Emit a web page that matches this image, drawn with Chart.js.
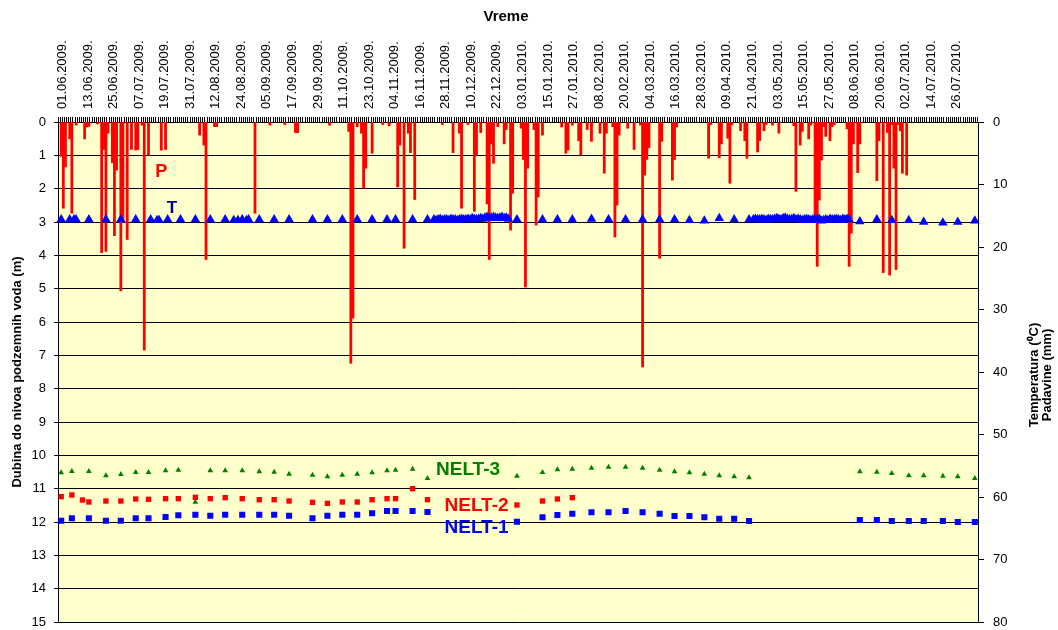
<!DOCTYPE html>
<html>
<head>
<meta charset="utf-8">
<script src="https://cdn.jsdelivr.net/npm/chart.js@4.4.1/dist/chart.umd.min.js"></script>
<style>
  html, body { margin: 0; padding: 0; background: #fff; }
  #wrap { width: 1058px; height: 630px; }
</style>
</head>
<body>
<div id="wrap"><canvas id="chart"></canvas></div>
<script>
// Daily categories from 01.06.2009, a date label every 12 days
const startYear = 2009, startMonth = 6, startDay = 1;
const dayCount = 432;
const labelEvery = 12;

// Left axis (depth, m) and right axis (temperature / precipitation)
const depthTicks = { min: 0, max: 15, step: 1 };
const rightTicks = { min: 0, max: 80, step: 10 };

// P - precipitation (mm); day = offset from 01.06.2009
const rainDays = [1, 2, 3, 5, 6, 8, 12, 13, 14, 18, 20, 21, 22, 23, 25, 26, 27, 29, 30, 32,
  34, 36, 37, 39, 40, 42, 48, 50, 66, 68, 69, 73, 74, 92, 99, 106, 111, 112, 127, 136,
  137, 138, 140, 142, 143, 144, 147, 152, 155, 159, 160, 162, 164, 165, 167, 180, 185, 188, 189, 192,
  195, 196, 198, 201, 202, 203, 204, 206, 209, 210, 212, 213, 217, 218, 219, 220, 223, 224, 225, 227,
  236, 238, 239, 241, 244, 245, 248, 250, 254, 256, 257, 260, 261, 262, 263, 267, 270, 273, 274, 275,
  276, 277, 282, 283, 288, 289, 290, 305, 306, 310, 311, 314, 315, 316, 320, 322, 323, 328, 329, 331,
  332, 335, 338, 345, 346, 348, 349, 352, 353, 355, 356, 357, 358, 359, 360, 362, 363, 364, 370, 371,
  372, 373, 375, 376, 384, 385, 387, 389, 390, 391, 392, 393, 394, 395, 396, 398];
const rainMm = [5.5, 13.8, 7.2, 2.7, 14.6, 0.5, 2.7, 0.8, 0.7, 0.3, 20.9, 4.4, 20.7, 1.8, 6.5, 18.2, 7.7, 27, 16.1, 18.8,
  4.4, 4.5, 4.4, 0.5, 36.5, 5.3, 4.5, 4.4, 2.1, 3.7, 22, 0.75, 0.75, 14.6, 0.5, 0.4, 1.7, 1.7, 0.5, 1.5,
  38.6, 31.4, 0.75, 1.8, 10.6, 7.4, 5, 0.4, 0.6, 10.4, 3.7, 20.2, 1.8, 4.9, 12.4, 0.4, 4.9, 1.8, 13.8, 0.4,
  14.3, 5.3, 1.7, 13.1, 22, 3.5, 6.6, 0.75, 3.5, 1.2, 17.3, 11.4, 1, 6, 26.4, 7.4, 1.2, 16.5, 12, 2.1,
  0.8, 5, 4.5, 0.5, 3, 5.3, 1.2, 3.1, 1.8, 8.2, 1.8, 0.75, 18.4, 13.3, 2.1, 1, 4.4, 0.5, 39.2, 8.5,
  6, 4.1, 21.8, 3.1, 9.3, 6, 0.8, 5.8, 0.4, 5.7, 3.5, 2.6, 9.8, 0.4, 1.4, 3, 5.8, 4.8, 3, 1.4,
  0.4, 0.5, 1.8, 0.6, 11.1, 3.7, 1.5, 2.7, 0.5, 14.9, 23.1, 12.5, 6.1, 0.75, 2.3, 3, 0.75, 0.4, 1.1, 23.1,
  17.8, 3.5, 8.1, 3.5, 9.4, 3, 24.1, 1.7, 24.5, 0.4, 7.4, 23.6, 0.4, 1.4, 8.2, 8.5];

// T - temperature (°C), spot readings
const tempDays = [1, 5, 7, 8, 14, 22, 29, 36, 43, 46, 47, 51, 57, 64, 71, 78, 82, 84, 86, 88,
  89, 94, 101, 108, 119, 126, 133, 140, 147, 154, 158, 166, 173,
  215, 227, 234, 241, 250, 258, 266, 274, 282, 289, 296, 303, 310, 317, 324,
  376, 384, 391, 399, 406, 415, 422, 430];
const tempVals = [15.6, 15.6, 15.6, 15.6, 15.6, 15.6, 15.6, 15.6, 15.6, 15.7, 15.7, 15.6, 15.6, 15.6, 15.6, 15.6, 15.7, 15.7, 15.6, 15.7,
  15.6, 15.6, 15.6, 15.6, 15.6, 15.6, 15.6, 15.6, 15.6, 15.6, 15.6, 15.6, 15.6,
  15.6, 15.6, 15.6, 15.6, 15.5, 15.6, 15.6, 15.6, 15.6, 15.6, 15.7, 15.8, 15.4, 15.6, 15.6,
  15.9, 15.6, 15.7, 15.7, 16.0, 16.1, 16.0, 15.8];
// T - daily readings (two periods)
const tempRunAStart = 176;
const tempRunA = [15.6, 15.7, 15.6, 15.5, 15.7, 15.6, 15.6, 15.7, 15.5, 15.6,
  15.6, 15.7, 15.6, 15.5, 15.6, 15.6, 15.5, 15.6, 15.4, 15.5,
  15.6, 15.5, 15.4, 15.5, 15.3, 15.2, 15.4, 15.3, 15.2, 15.3,
  15.4, 15.3, 15.2, 15.4, 15.3, 15.5];
const tempRunBStart = 326;
const tempRunB = [15.6, 15.5, 15.6, 15.6, 15.5, 15.6, 15.7, 15.5, 15.6, 15.6,
  15.5, 15.4, 15.5, 15.6, 15.4, 15.3, 15.5, 15.6, 15.5, 15.4,
  15.6, 15.5, 15.6, 15.7, 15.6, 15.5, 15.6, 15.7, 15.6, 15.5,
  15.6, 15.5, 15.8, 15.7, 15.6, 15.7, 15.5, 15.6, 15.6, 15.5,
  15.6, 15.7, 15.5, 15.6, 15.5, 15.6];

// Depth to groundwater (m) in the NELT wells, weekly measurements
const wellDays = [1, 6, 11, 14, 22, 29, 36, 42, 50, 56, 64, 71, 78, 86, 94, 101, 108, 119, 126, 133,
  140, 147, 154, 158, 166, 173, 215, 227, 234, 241, 250, 258, 266, 274, 282, 289, 296, 303, 310, 317,
  324, 376, 384, 391, 399, 406, 415, 422, 430];
const nelt3 = [10.52, 10.48, null, 10.48, 10.61, 10.57, 10.51, 10.51, 10.46, 10.44, 11.4, 10.46, 10.46, 10.46, 10.49, 10.5, 10.56, 10.59, 10.64, 10.59,
  10.56, 10.52, 10.46, 10.44, 10.41, 10.69, 10.62, 10.51, 10.43, 10.41, 10.38, 10.35, 10.35, 10.38, 10.44, 10.49, 10.52, 10.56, 10.61, 10.64,
  10.67, 10.49, 10.5, 10.54, 10.61, 10.61, 10.62, 10.64, 10.69];
const nelt2 = [11.24, 11.19, 11.34, 11.4, 11.37, 11.37, 11.31, 11.32, 11.3, 11.3, 11.26, 11.3, 11.27, 11.3, 11.33, 11.33, 11.37, 11.41, 11.44, 11.4,
  11.4, 11.33, 11.3, 11.3, 11.0, 11.33, 11.49, 11.37, 11.31, 11.27, null, null, null, null, null, null, null, null, null, null,
  null, null, null, null, null, null, null, null, null];
const nelt1 = [11.96, 11.89, null, 11.89, 11.96, 11.96, 11.89, 11.89, 11.85, 11.8, 11.78, 11.81, 11.78, 11.78, 11.78, 11.78, 11.81, 11.89, 11.81, 11.78,
  11.78, 11.74, 11.67, 11.67, 11.67, 11.7, 11.99, 11.86, 11.79, 11.75, 11.71, 11.71, 11.67, 11.71, 11.75, 11.82, 11.82, 11.86, 11.9, 11.9,
  11.97, 11.94, 11.94, 11.97, 11.97, 11.97, 11.97, 12.0, 12.0];

// series name labels, placed in data units (day, value on the named axis)
const seriesTags = [
  { text: 'P', color: '#FF0000', axis: 'y2', day: 48, value: 8, align: 'center', size: 18 },
  { text: 'T', color: '#000080', axis: 'y2', day: 53, value: 13.8, align: 'center', size: 17 },
  { text: 'NELT-3', color: '#008000', axis: 'y', day: 177, value: 10.44, align: 'left', size: 19 },
  { text: 'NELT-2', color: '#FF0000', axis: 'y', day: 181, value: 11.52, align: 'left', size: 19 },
  { text: 'NELT-1', color: '#0000FF', axis: 'y', day: 181, value: 12.18, align: 'left', size: 19 }
];

function pad2(n) { return String(n).padStart(2, '0'); }

const categories = [];
for (let i = 0; i < dayCount; i++) {
  const d = new Date(Date.UTC(startYear, startMonth - 1, startDay + i));
  categories.push(pad2(d.getUTCDate()) + '.' + pad2(d.getUTCMonth() + 1) + '.' + d.getUTCFullYear() + '.');
}

function daily(days, vals) {
  const out = new Array(dayCount).fill(null);
  days.forEach((d, i) => { if (vals[i] !== null && vals[i] !== undefined) out[d] = vals[i]; });
  return out;
}

const tempAll = daily(tempDays, tempVals);
tempRunA.forEach((v, i) => { tempAll[tempRunAStart + i] = v; });
tempRunB.forEach((v, i) => { tempAll[tempRunBStart + i] = v; });

Chart.defaults.font.family = '"Liberation Sans", Arial, sans-serif';
Chart.defaults.color = '#000';

const plotBackground = {
  id: 'plotBackground',
  beforeDraw(chart) {
    const { ctx, chartArea: a } = chart;
    ctx.save();
    ctx.fillStyle = '#FFFFCC';
    ctx.fillRect(a.left, a.top, a.right - a.left, a.bottom - a.top);
    ctx.restore();
  }
};

const extraText = {
  id: 'extraText',
  afterDatasetsDraw(chart) {
    const { ctx, chartArea: a, scales } = chart;
    ctx.save();
    seriesTags.forEach(t => {
      ctx.font = 'bold ' + t.size + 'px "Liberation Sans", Arial, sans-serif';
      ctx.fillStyle = t.color;
      ctx.textAlign = t.align;
      ctx.textBaseline = 'middle';
      ctx.fillText(t.text, scales.x.getPixelForValue(t.day), scales[t.axis].getPixelForValue(t.value));
    });
    // x axis title, sits a little left of the plot centre
    ctx.font = 'bold 15px "Liberation Sans", Arial, sans-serif';
    ctx.fillStyle = '#000';
    ctx.textAlign = 'center';
    ctx.textBaseline = 'middle';
    ctx.fillText('Vreme', (a.left + a.right) / 2 - 12, 17);
    // right axis title, two lines reading upwards
    ctx.font = 'bold 13px "Liberation Sans", Arial, sans-serif';
    ctx.translate(a.right + 56, (a.top + a.bottom) / 2 + 3);
    ctx.rotate(-Math.PI / 2);
    ctx.fillText('Temperatura (\u2070C)', 0, 0);
    ctx.fillText('Padavine (mm)', 0, 13);
    ctx.restore();
  }
};

// vertical axes: fixed width, no extra room for half tick labels
function fixVertical(width) {
  return function (scale) {
    scale.width = width;
    scale.paddingTop = 0;
    scale.paddingBottom = 0;
  };
}

new Chart(document.getElementById('chart'), {
  data: {
    labels: categories,
    datasets: [
      {
        type: 'line', label: 'NELT-1', data: daily(wellDays, nelt1), yAxisID: 'y',
        showLine: false, pointStyle: 'rect', pointRadius: 4.3, pointBorderWidth: 0,
        pointBackgroundColor: '#0000FF', borderColor: '#0000FF'
      },
      {
        type: 'line', label: 'NELT-2', data: daily(wellDays, nelt2), yAxisID: 'y',
        showLine: false, pointStyle: 'rect', pointRadius: 3.8, pointBorderWidth: 0,
        pointBackgroundColor: '#FF0000', borderColor: '#FF0000'
      },
      {
        type: 'line', label: 'NELT-3', data: daily(wellDays, nelt3), yAxisID: 'y',
        showLine: false, pointStyle: 'triangle', pointRadius: 3.3, pointBorderWidth: 0,
        pointBackgroundColor: '#008000', borderColor: '#008000'
      },
      {
        type: 'line', label: 'T', data: tempAll, yAxisID: 'y2',
        showLine: false, pointStyle: 'triangle', pointRadius: 5.5, pointBorderWidth: 0,
        pointBackgroundColor: '#0000FF', borderColor: '#0000FF'
      },
      {
        type: 'bar', label: 'P', data: daily(rainDays, rainMm), yAxisID: 'y2',
        backgroundColor: '#FF0000', borderWidth: 0,
        barPercentage: 1, categoryPercentage: 1
      }
    ]
  },
  options: {
    responsive: true,
    maintainAspectRatio: false,
    animation: false,
    layout: { padding: { top: 0, right: 0, bottom: 8, left: 0 } },
    plugins: { legend: { display: false }, tooltip: { enabled: false }, title: { display: false } },
    scales: {
      x: {
        type: 'category',
        position: 'top',
        offset: true,
        afterFit(scale) { scale.height = 122; scale.paddingLeft = 0; scale.paddingRight = 0; },
        grid: { offset: true, drawOnChartArea: false, drawTicks: true, tickLength: 5, color: '#000', lineWidth: 1 },
        border: { display: true, color: '#000', width: 1 },
        ticks: {
          autoSkip: false, minRotation: 90, maxRotation: 90, padding: 8, labelOffset: 19,
          font: { size: 13 }, color: '#000',
          callback(value, index) { return index % labelEvery === 0 ? categories[index] : ''; }
        }
      },
      y: {
        position: 'left',
        reverse: true,
        min: depthTicks.min, max: depthTicks.max,
        afterFit: fixVertical(58),
        grid: { color: '#000', lineWidth: 1, tickLength: 4 },
        border: { display: true, color: '#000', width: 1 },
        ticks: { stepSize: depthTicks.step, padding: 8, font: { size: 13 }, color: '#000' },
        title: {
          display: true, text: 'Dubina do nivoa podzemnih voda (m)',
          font: { size: 13, weight: 'bold' }, color: '#000', padding: { top: 10, bottom: 0 }
        }
      },
      y2: {
        position: 'right',
        reverse: true,
        min: rightTicks.min, max: rightTicks.max,
        afterFit: fixVertical(80),
        grid: { drawOnChartArea: false, color: '#000', tickLength: 6 },
        border: { display: true, color: '#000', width: 1 },
        ticks: { stepSize: rightTicks.step, padding: 9, font: { size: 13 }, color: '#000' }
      }
    }
  },
  plugins: [plotBackground, extraText]
});
</script>
</body>
</html>
